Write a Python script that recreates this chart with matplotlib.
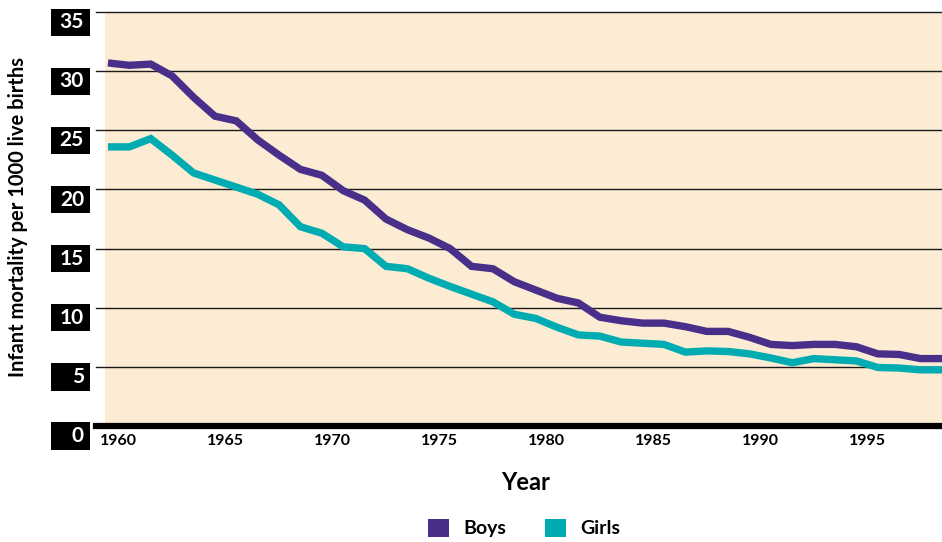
import matplotlib
matplotlib.use("Agg")
import matplotlib.pyplot as plt
import matplotlib.transforms as mtransforms
from matplotlib.patches import Rectangle, Patch

plt.rcParams['font.family'] = ['Lato', 'DejaVu Sans']

years = list(range(1960, 2000))
boys = [30.7, 30.5, 30.6, 29.6, 27.8, 26.2, 25.8, 24.2, 22.9, 21.7,
        21.2, 19.9, 19.1, 17.5, 16.6, 15.9, 15.0, 13.5, 13.3, 12.2,
        11.5, 10.8, 10.4, 9.2, 8.9, 8.7, 8.7, 8.4, 8.0, 8.0,
        7.5, 6.9, 6.8, 6.9, 6.9, 6.7, 6.1, 6.05, 5.7, 5.7]
girls = [23.6, 23.6, 24.3, 22.9, 21.4, 20.8, 20.2, 19.6, 18.7, 16.85,
         16.3, 15.15, 15.0, 13.5, 13.3, 12.5, 11.8, 11.15, 10.5, 9.45,
         9.1, 8.35, 7.7, 7.6, 7.1, 7.0, 6.9, 6.25, 6.35, 6.3,
         6.1, 5.75, 5.35, 5.7, 5.6, 5.5, 4.95, 4.9, 4.75, 4.75]
y_ticks = [0, 5, 10, 15, 20, 25, 30, 35]
x_ticks = [1960, 1965, 1970, 1975, 1980, 1985, 1990, 1995]

purple = '#4a2f8a'
teal = '#00acb1'
beige = '#fcecd3'

fig = plt.figure(figsize=(9.42, 5.42), dpi=100)
ax = fig.add_axes([96 / 942, 0.214, 1 - 96 / 942, 0.767])
ax.set_xlim(1959.44, 1999)
ax.set_ylim(0, 35.15)
for s in ax.spines.values():
    s.set_visible(False)

# beige plotting area
ax.axvspan(1959.86, 1999, ymin=0, ymax=35 / 35.15, color=beige, zorder=0, lw=0)

# horizontal grid lines
for v in y_ticks[1:]:
    ax.axhline(v, color='#1a1a1a', lw=1.0, zorder=1, clip_on=False)
ax.axhline(0, color='black', lw=4.5, zorder=4, clip_on=False)

ax.plot(years, boys, color=purple, lw=5.3, solid_capstyle='butt',
        solid_joinstyle='miter', zorder=3)
ax.plot(years, girls, color=teal, lw=5.3, solid_capstyle='butt',
        solid_joinstyle='miter', zorder=3)

# y tick labels: white text in black boxes
ax.set_yticks([])
trans = mtransforms.blended_transform_factory(fig.transFigure, ax.transData)
for v in y_ticks:
    box = Rectangle((51 / 942, v - 2.0), 39 / 942, 2.3, transform=trans,
                    facecolor='black', edgecolor='none', clip_on=False)
    fig.patches.append(box)
    fig.text(84 / 942, v - 0.85, str(v), transform=trans, color='white',
             fontsize=15, fontweight='bold', ha='right', va='center')

# x tick labels sit half a year right of the tick
ax.set_xticks([x + 0.5 for x in x_ticks])
ax.set_xticklabels([str(x) for x in x_ticks], fontsize=11.5, fontweight='bold')
ax.tick_params(axis='x', length=0, pad=6)

fig.text(526 / 942, 1 - 483 / 542, 'Year', fontsize=17, fontweight='bold',
         ha='center', va='center')
fig.text(18 / 942, 1 - 217 / 542, 'Infant mortality per 1000 live births',
         fontsize=14.5, fontweight='bold', rotation=90, ha='center', va='center')

handles = [Patch(facecolor=purple, label='Boys'), Patch(facecolor=teal, label='Girls')]
fig.legend(handles=handles, loc='center', bbox_to_anchor=(524 / 942, 1 - 528 / 542),
           ncol=2, frameon=False, prop={'size': 14, 'weight': 'bold'},
           handlelength=1.08, handleheight=1.08, handletextpad=0.72,
           columnspacing=2.0)

fig.savefig('out.png', dpi=100)
